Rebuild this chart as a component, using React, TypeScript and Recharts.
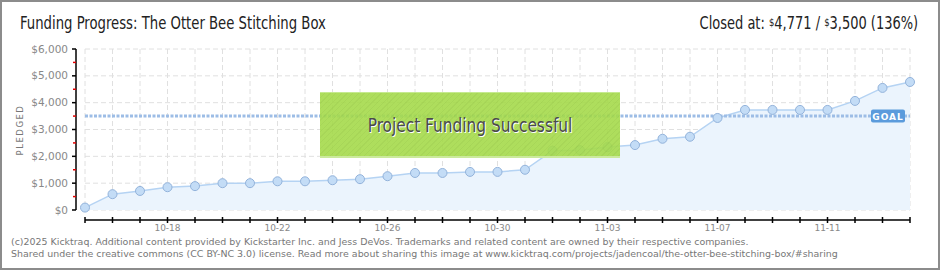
import React from 'react';
import { ComposedChart, Area, XAxis, YAxis, CartesianGrid, ReferenceLine } from 'recharts';

const dates = [
  '10-15', '10-16', '10-17', '10-18', '10-19', '10-20', '10-21', '10-22', '10-23', '10-24',
  '10-25', '10-26', '10-27', '10-28', '10-29', '10-30', '10-31', '11-01', '11-02', '11-03',
  '11-04', '11-05', '11-06', '11-07', '11-08', '11-09', '11-10', '11-11', '11-12', '11-13', '11-14',
];
const pledged = [
  90, 590, 710, 850, 890, 1000, 1000, 1070, 1070, 1110,
  1150, 1260, 1380, 1380, 1420, 1420, 1500, 2210, 2230, 2345,
  2420, 2655, 2730, 3430, 3730, 3730, 3730, 3730, 4065, 4550, 4771,
];
const xLabels = ['10-18', '10-22', '10-26', '10-30', '11-03', '11-07', '11-11'];
const yTicks = [0, 500, 1000, 1500, 2000, 2500, 3000, 3500, 4000, 4500, 5000, 5500, 6000];
const yGrid = [0, 1000, 2000, 3000, 4000, 5000, 6000];
const goal = 3500;

const data = dates.map((date, i) => ({ date, pledged: pledged[i] }));

const FONT = "'Liberation Sans Narrow', 'DejaVu Sans Condensed', sans-serif";

const YTick = (props: any) => {
  const { x, y, payload } = props;
  const major = payload.value % 1000 === 0;
  return (
    <g>
      <line x1={x - (major ? 4 : 3)} x2={x} y1={y} y2={y} stroke={major ? '#000' : '#e00000'} strokeWidth={1.5} />
      {major && (
        <text x={x - 8} y={y} dy={3.5} textAnchor="end" fill="#888" fontSize={10.5} fontFamily="DejaVu Sans">
          {'$' + payload.value.toLocaleString('en-US')}
        </text>
      )}
    </g>
  );
};

const XTick = (props: any) => {
  const { x, y, payload } = props;
  const show = xLabels.includes(payload.value);
  return (
    <g>
      <line x1={x} x2={x} y1={y - 3} y2={y + 3} stroke="#000" strokeWidth={1.5} />
      {show && (
        <text x={x} y={y + 11} textAnchor="middle" fill="#888" fontSize={9} fontFamily="DejaVu Sans">
          {payload.value}
        </text>
      )}
    </g>
  );
};

const GoalLabel = (props: any) => {
  const { viewBox } = props;
  const x = viewBox.x + viewBox.width - 39;
  const y = viewBox.y - 6.5;
  return (
    <g>
      <rect x={x} y={y} width={34} height={13} rx={2} fill="#5b9bdc" />
      <text x={x + 17} y={y + 10} textAnchor="middle" fill="#fff" fontSize={9} fontWeight="bold" letterSpacing={1} fontFamily="DejaVu Sans">
        GOAL
      </text>
    </g>
  );
};

export default function App() {
  return (
    <div style={{ position: 'relative', width: 940, height: 270, background: '#fff', overflow: 'hidden' }}>
      <style>{'body{margin:0}'}</style>
      <ComposedChart
        width={940}
        height={270}
        data={data}
        margin={{ top: 49, right: 30, left: 16, bottom: 30 }}
        style={{ position: 'absolute', left: 0, top: 0 }}
      >
        <CartesianGrid
          xAxisId="b"
          yAxisId="v"
          stroke="#e0e0e0"
          strokeDasharray="5 3"
          horizontalValues={yGrid}
          verticalValues={dates}
        />
        <XAxis xAxisId="a" dataKey="date" height={10} axisLine={false} tickLine={false} tick={false} />
        <XAxis
          xAxisId="b"
          dataKey="date"
          height={20}
          ticks={dates}
          interval={0}
          tickSize={0}
          tickMargin={0}
          tickLine={false}
          axisLine={{ stroke: '#000', strokeWidth: 1.5 }}
          tick={<XTick />}
        />
        <YAxis yAxisId="a" width={9} domain={[0, 6000]} axisLine={false} tickLine={false} tick={false} />
        <YAxis
          yAxisId="v"
          width={60}
          domain={[0, 6000]}
          ticks={yTicks}
          interval={0}
          tickSize={0}
          tickMargin={0}
          tickLine={false}
          axisLine={{ stroke: '#000', strokeWidth: 1.5 }}
          tick={<YTick />}
        />
        <ReferenceLine
          xAxisId="b"
          yAxisId="v"
          y={goal}
          stroke="#9dbde6"
          strokeWidth={3}
          strokeDasharray="3 1.5"
          label={<GoalLabel />}
        />
        <Area
          xAxisId="b"
          yAxisId="v"
          type="linear"
          dataKey="pledged"
          stroke="#b5d3f3"
          strokeWidth={1.5}
          fill="#ebf4fd"
          fillOpacity={1}
          dot={{ r: 4.5, fill: '#c3dcf6', stroke: '#93b3db', strokeWidth: 1 }}
          activeDot={false}
          isAnimationActive={false}
        />
      </ComposedChart>

      <div style={{ position: 'absolute', left: 20, top: 13, fontFamily: FONT, fontSize: 17, color: '#222', lineHeight: '20px', whiteSpace: 'nowrap', transform: 'scaleX(0.865)', transformOrigin: 'left center' }}>
        Funding Progress: The Otter Bee Stitching Box
      </div>
      <div style={{ position: 'absolute', right: 22, top: 13, fontFamily: FONT, fontSize: 17, color: '#222', lineHeight: '20px', whiteSpace: 'nowrap', transform: 'scaleX(0.85)', transformOrigin: 'right center' }}>
        Closed at: <span style={{ fontSize: 11, verticalAlign: 'top' }}>$</span>4,771 / <span style={{ fontSize: 11, verticalAlign: 'top' }}>$</span>3,500 (136%)
      </div>

      <div style={{ position: 'absolute', left: 20, top: 130, transform: 'translate(-50%, -50%) rotate(-90deg)', fontFamily: 'DejaVu Sans', fontSize: 8.5, letterSpacing: 1.5, color: '#777', whiteSpace: 'nowrap' }}>
        PLEDGED
      </div>

      <div
        style={{
          position: 'absolute',
          left: 320,
          top: 92,
          width: 300,
          height: 66,
          boxSizing: 'border-box',
          background: 'repeating-linear-gradient(135deg, rgba(165,218,75,0.9) 0px, rgba(165,218,75,0.9) 3px, rgba(158,210,70,0.9) 3px, rgba(158,210,70,0.9) 4px)',
          borderTop: '1px solid rgba(200,235,150,0.9)',
          borderBottom: '2px solid rgba(205,235,160,0.95)',
        }}
      >
        <div
          style={{
            textAlign: 'center',
            lineHeight: '64px',
            fontFamily: FONT,
            fontSize: 19,
            color: '#4a4a4a',
            textShadow: '1px 1px 0 #fff',
            whiteSpace: 'nowrap',
            transform: 'scaleX(0.9)',
          }}
        >
          Project Funding Successful
        </div>
      </div>

      <div style={{ position: 'absolute', left: 11, top: 236, fontFamily: 'DejaVu Sans', fontSize: 9.45, color: '#777', lineHeight: '12px', whiteSpace: 'nowrap' }}>
        (c)2025 Kicktraq. Additional content provided by Kickstarter Inc. and Jess DeVos. Trademarks and related content are owned by their respective companies.
        <br />
        Shared under the creative commons (CC BY-NC 3.0) license. Read more about sharing this image at www.kicktraq.com/projects/jadencoal/the-otter-bee-stitching-box/#sharing
      </div>

      <div style={{ position: 'absolute', inset: 0, border: '2px solid #8c8c8c', pointerEvents: 'none' }} />
    </div>
  );
}
